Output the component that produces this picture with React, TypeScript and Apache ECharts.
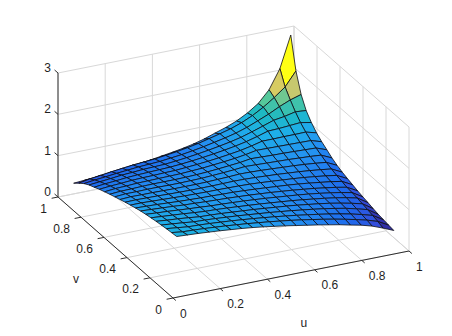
import React, { useEffect, useRef } from "react";
import * as echarts from "echarts";

// Mesh node positions on the u and v axes
const uNodes = [0.04,0.086,0.132,0.178,0.224,0.27,0.316,0.362,0.408,0.454,0.5,0.546,0.592,0.638,0.684,0.73,0.776,0.822,0.868,0.914,0.96];
const vNodes = [0.05,0.095,0.14,0.184,0.229,0.274,0.319,0.364,0.408,0.453,0.498,0.543,0.588,0.632,0.677,0.722,0.767,0.812,0.856,0.901,0.946];

// Surface heights: row k holds z for u index k..20 at v index k (the surface mirrors across u = v)
const zRow00 = [1.32,1.305,1.29,1.27,1.25,1.225,1.2,1.17,1.135,1.095,1.055,1.01,0.965,0.92,0.87,0.82,0.76,0.705,0.63,0.53,0.42];
const zRow01 = [1.27,1.26,1.245,1.225,1.205,1.18,1.155,1.125,1.095,1.06,1.025,0.985,0.94,0.895,0.845,0.79,0.73,0.665,0.58,0.44];
const zRow02 = [1.23,1.22,1.205,1.185,1.165,1.14,1.115,1.085,1.055,1.02,0.985,0.945,0.905,0.86,0.81,0.755,0.69,0.615,0.46];
const zRow03 = [1.19,1.18,1.165,1.145,1.125,1.1,1.075,1.05,1.02,0.99,0.955,0.92,0.88,0.835,0.785,0.72,0.65,0.48];
const zRow04 = [1.15,1.14,1.125,1.105,1.085,1.065,1.04,1.015,0.99,0.96,0.925,0.89,0.85,0.8,0.745,0.68,0.51];
const zRow05 = [1.12,1.11,1.095,1.075,1.055,1.035,1.01,0.985,0.96,0.93,0.895,0.86,0.82,0.77,0.71,0.545];
const zRow06 = [1.09,1.08,1.065,1.05,1.03,1.01,0.985,0.96,0.935,0.905,0.87,0.83,0.785,0.73,0.575];
const zRow07 = [1.07,1.06,1.045,1.03,1.01,0.99,0.965,0.94,0.91,0.88,0.84,0.8,0.75,0.61];
const zRow08 = [1.05,1.045,1.03,1.015,0.995,0.975,0.955,0.93,0.9,0.865,0.83,0.785,0.65];
const zRow09 = [1.04,1.035,1.025,1.01,0.99,0.97,0.95,0.925,0.895,0.86,0.82,0.69];
const zRow10 = [1.04,1.035,1.025,1.01,0.995,0.975,0.955,0.93,0.9,0.865,0.735];
const zRow11 = [1.05,1.045,1.035,1.02,1.005,0.99,0.97,0.945,0.915,0.79];
const zRow12 = [1.07,1.06,1.05,1.04,1.03,1.015,1.0,0.98,0.86];
const zRow13 = [1.1,1.09,1.08,1.075,1.065,1.055,1.045,0.95];
const zRow14 = [1.14,1.135,1.13,1.125,1.12,1.115,1.035];
const zRow15 = [1.2,1.2,1.205,1.205,1.21,1.14];
const zRow16 = [1.28,1.29,1.31,1.33,1.28];
const zRow17 = [1.38,1.42,1.48,1.46];
const zRow18 = [1.55,1.66,1.74];
const zRow19 = [1.865,2.2];
const zRow20 = [2.96];

const uTicks = [0, 0.2, 0.4, 0.6, 0.8, 1];
const vTicks = [0, 0.2, 0.4, 0.6, 0.8, 1];
const zTicks = [0, 1, 2, 3];

const zTri = [zRow00,zRow01,zRow02,zRow03,zRow04,zRow05,zRow06,zRow07,zRow08,zRow09,zRow10,zRow11,zRow12,zRow13,zRow14,zRow15,zRow16,zRow17,zRow18,zRow19,zRow20];
const zAt = (j: number, i: number) => (i >= j ? zTri[j][i - j] : zTri[i][j - i]);

// Colour ramp over height
const ramp: [number, number, number, number][] = [
  [0.42, 48, 44, 160],
  [0.55, 52, 76, 218],
  [0.75, 30, 108, 238],
  [1.0, 36, 145, 242],
  [1.25, 30, 175, 232],
  [1.45, 30, 185, 195],
  [1.7, 85, 200, 155],
  [2.0, 212, 200, 105],
  [2.5, 255, 255, 20],
];
function colorOf(z: number) {
  if (z <= ramp[0][0]) return `rgb(${ramp[0][1]},${ramp[0][2]},${ramp[0][3]})`;
  for (let k = 1; k < ramp.length; k++) {
    if (z <= ramp[k][0]) {
      const a = ramp[k - 1], b = ramp[k];
      const t = (z - a[0]) / (b[0] - a[0]);
      return `rgb(${Math.round(a[1] + (b[1] - a[1]) * t)},${Math.round(a[2] + (b[2] - a[2]) * t)},${Math.round(a[3] + (b[3] - a[3]) * t)})`;
    }
  }
  const l = ramp[ramp.length - 1];
  return `rgb(${l[1]},${l[2]},${l[3]})`;
}

// Oblique view of the unit box: page position of (u, v, z)
const proj = (u: number, v: number, z: number): [number, number] => [
  173 + 236 * u - 115 * v,
  298 - 47 * u - 101 * v - (124 / 3) * z,
];

type Seg = { a: number[]; b: number[]; color: string; width: number };
const GRID = "#d8d8d8";
const AXIS = "#303030";
const segs: Seg[] = [];
const zTop = zTicks[zTicks.length - 1];
uTicks.forEach((u) => {
  segs.push({ a: [u, 0, 0], b: [u, 1, 0], color: GRID, width: 1 });
  segs.push({ a: [u, 1, 0], b: [u, 1, zTop], color: GRID, width: 1 });
});
vTicks.forEach((v) => {
  segs.push({ a: [0, v, 0], b: [1, v, 0], color: GRID, width: 1 });
  segs.push({ a: [1, v, 0], b: [1, v, zTop], color: GRID, width: 1 });
});
zTicks.forEach((z) => {
  segs.push({ a: [0, 1, z], b: [1, 1, z], color: GRID, width: 1 });
  segs.push({ a: [1, 1, z], b: [1, 0, z], color: GRID, width: 1 });
});
segs.push({ a: [0, 1, 0], b: [0, 1, zTop], color: AXIS, width: 1 });
segs.push({ a: [0, 0, 0], b: [0, 1, 0], color: AXIS, width: 1 });
segs.push({ a: [0, 0, 0], b: [1, 0, 0], color: AXIS, width: 1 });
uTicks.forEach((u) => segs.push({ a: [u, 0, 0], b: [u, -0.025, 0], color: AXIS, width: 1 }));
vTicks.forEach((v) => segs.push({ a: [0, v, 0], b: [-0.027, v, 0], color: AXIS, width: 1 }));
zTicks.forEach((z) => segs.push({ a: [0, 1, z], b: [0, 1.03, z], color: AXIS, width: 1 }));

type Lab = { text: string; x: number; y: number; align: string };
const labels: Lab[] = [];
uTicks.forEach((u) => {
  const p = proj(u, 0, 0);
  labels.push({ text: String(u), x: p[0] + 7, y: p[1] + 15.5, align: "left" });
});
vTicks.forEach((v) => {
  const p = proj(0, v, 0);
  labels.push({ text: String(v), x: p[0] - 11, y: p[1] + 11.5, align: "right" });
});
zTicks.forEach((z) => {
  const p = proj(0, 1, z);
  labels.push({ text: String(z), x: p[0] - 7, y: p[1] - 5, align: "right" });
});
const uTitle = proj(0.354, -0.412, 0);
const vTitle = proj(-0.26, 0.309, 0);
labels.push({ text: "u", x: uTitle[0], y: uTitle[1], align: "center" });
labels.push({ text: "v", x: vTitle[0], y: vTitle[1], align: "center" });

// Faces painted from the far corner towards the viewer
const cells: number[][] = [];
for (let s = 38; s >= 0; s--) {
  for (let j = 0; j < 20; j++) {
    const i = s - j;
    if (i >= 0 && i < 20) cells.push([i, j]);
  }
}

export default function App() {
  const ref = useRef<HTMLDivElement>(null);
  useEffect(() => {
    const chart = echarts.init(ref.current!, undefined, { renderer: "svg" });
    chart.setOption({
      animation: false,
      backgroundColor: "#ffffff",
      grid: { left: 0, right: 0, top: 0, bottom: 0 },
      xAxis: { type: "value", min: 0, max: 452, show: false },
      yAxis: { type: "value", min: 0, max: 336, inverse: true, show: false },
      series: [
        {
          type: "custom",
          silent: true,
          clip: false,
          z: 1,
          data: segs.map((_, k) => [k]),
          renderItem: (params: any, api: any) => {
            const s = segs[params.dataIndex];
            const p = api.coord(proj(s.a[0], s.a[1], s.a[2]));
            const q = api.coord(proj(s.b[0], s.b[1], s.b[2]));
            return {
              type: "line",
              shape: { x1: p[0], y1: p[1], x2: q[0], y2: q[1] },
              style: { stroke: s.color, lineWidth: s.width, fill: "none" },
            };
          },
        },
        {
          type: "custom",
          silent: true,
          clip: false,
          z: 2,
          data: cells,
          renderItem: (_: any, api: any) => {
            const i = api.value(0);
            const j = api.value(1);
            const corner = (a: number, b: number) => api.coord(proj(uNodes[a], vNodes[b], zAt(b, a)));
            const c = (zAt(j + 1, i + 1) + zAt(j, i + 1)) / 2;
            return {
              type: "polygon",
              shape: { points: [corner(i, j), corner(i + 1, j), corner(i + 1, j + 1), corner(i, j + 1)] },
              style: { fill: colorOf(c), stroke: "#0c0c14", lineWidth: 0.8, lineJoin: "round" },
            };
          },
        },
        {
          type: "custom",
          silent: true,
          clip: false,
          z: 3,
          data: labels.map((_, k) => [k]),
          renderItem: (params: any, api: any) => {
            const l = labels[params.dataIndex];
            const p = api.coord([l.x, l.y]);
            return {
              type: "text",
              x: p[0],
              y: p[1],
              style: {
                text: l.text,
                fill: "#1f1f1f",
                font: '12px "Liberation Sans", Arial, sans-serif',
                textAlign: l.align,
                textVerticalAlign: "middle",
              },
            };
          },
        },
      ],
    });
    return () => chart.dispose();
  }, []);
  return <div ref={ref} style={{ position: "fixed", left: 0, top: 0, width: 452, height: 336 }} />;
}
